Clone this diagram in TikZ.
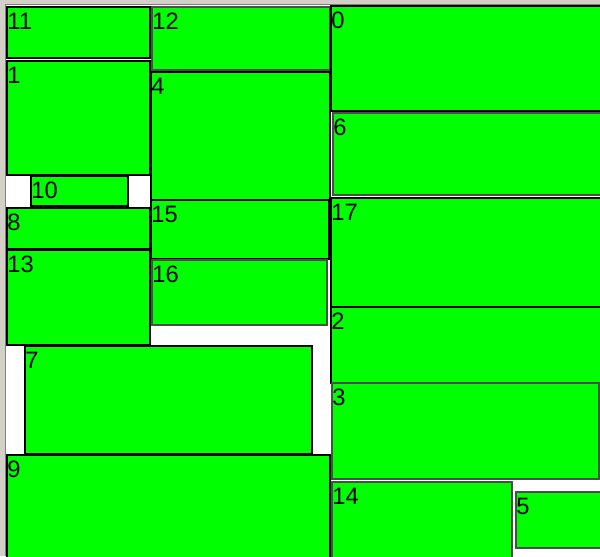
\documentclass[tikz,border=0pt]{standalone}
\usepackage{fontspec}
\setmainfont{Liberation Sans}
\definecolor{boxgreen}{HTML}{00FF00}
\definecolor{framegray}{HTML}{D4D0C8}

\begin{document}
\begin{tikzpicture}[x=0.02cm,y=-0.02cm,
  darkbox/.style={fill=boxgreen,draw=black,line width=1pt},
  softbox/.style={fill=boxgreen,draw=black!70,line width=0.6pt},
  idx/.style={anchor=base west,inner sep=0pt,font=\fontsize{13.5}{16}\selectfont}]
\useasboundingbox (0,0) rectangle (600,556);
\clip (0,0) rectangle (600,556);
\fill[white] (0,0) rectangle (600,556);
\fill[framegray] (0,0) rectangle (600,4);
\fill[framegray] (0,0) rectangle (5,556);
\draw[gray,line width=0.6pt] (5.5,556) -- (5.5,4.5) -- (600,4.5);
\draw[darkbox] (7,7) rectangle (150,58);
\node[idx] (l11) at (7,29.5) {11};
\draw[softbox] (152,7) rectangle (330,70);
\node[idx] (l12) at (152,29.5) {12};
\draw[darkbox] (331,6) rectangle (602,111);
\node[idx] (l0) at (331,28.5) {0};
\draw[darkbox] (7,61) rectangle (150,175);
\node[idx] (l1) at (7,83.5) {1};
\draw[darkbox] (151,72) rectangle (330,201);
\node[idx] (l4) at (151,94.5) {4};
\draw[softbox] (333,113) rectangle (602,195);
\node[idx] (l6) at (333,135.5) {6};
\draw[darkbox] (31,176) rectangle (128,206);
\node[idx] (l10) at (31,198.5) {10};
\draw[darkbox] (7,208) rectangle (150,249);
\node[idx] (l8) at (7,230.5) {8};
\draw[darkbox] (151,200) rectangle (329,259);
\node[idx] (l15) at (151,222.5) {15};
\draw[darkbox] (331,198) rectangle (602,307);
\node[idx] (l17) at (331,220.5) {17};
\draw[softbox] (152,260) rectangle (327,325);
\node[idx] (l16) at (152,282.5) {16};
\draw[darkbox] (7,250) rectangle (150,345);
\node[idx] (l13) at (7,272.5) {13};
\draw[darkbox] (331,307) rectangle (602,383);
\node[idx] (l2) at (331,329.5) {2};
\draw[darkbox] (25,346) rectangle (312,454);
\node[idx] (l7) at (25,368.5) {7};
\draw[softbox] (332,383) rectangle (599,479);
\node[idx] (l3) at (332,405.5) {3};
\draw[darkbox] (7,455) rectangle (330,558);
\node[idx] (l9) at (7,477.5) {9};
\draw[softbox] (332,482) rectangle (512,558);
\node[idx] (l14) at (332,504.5) {14};
\draw[softbox] (516,492) rectangle (602,548);
\node[idx] (l5) at (516,514.5) {5};
\end{tikzpicture}
\end{document}
